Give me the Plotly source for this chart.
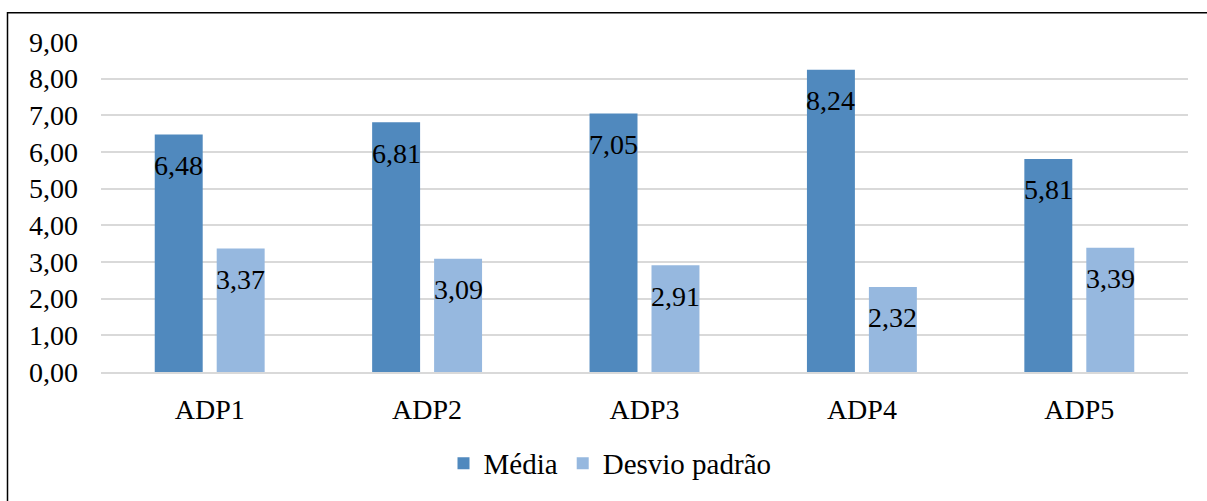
import plotly.graph_objects as go

categories = ["ADP1", "ADP2", "ADP3", "ADP4", "ADP5"]
media = [6.48, 6.81, 7.05, 8.24, 5.81]
desvio = [3.37, 3.09, 2.91, 2.32, 3.39]
y_ticks = [0, 1, 2, 3, 4, 5, 6, 7, 8, 9]
y_tick_labels = ["0,00", "1,00", "2,00", "3,00", "4,00", "5,00", "6,00", "7,00", "8,00", "9,00"]

FONT = "Liberation Serif"
C_MEDIA = "#5089BE"
C_DESVIO = "#96B8DF"

def fmt(v):
    return f"{v:.2f}".replace(".", ",")

fig = go.Figure()
fig.add_trace(go.Bar(name="Média", x=categories, y=media, marker=dict(color=C_MEDIA, line=dict(width=0))))
fig.add_trace(go.Bar(name="Desvio padrão", x=categories, y=desvio, marker=dict(color=C_DESVIO, line=dict(width=0))))

annotations = []
for series, shift in ((media, -31), (desvio, 31)):
    for c, v in zip(categories, series):
        annotations.append(dict(x=c, y=v, xref="x", yref="y", text=fmt(v), showarrow=False,
                                xshift=shift, yshift=-31, yanchor="middle", xanchor="center",
                                font=dict(family=FONT, size=28, color="black")))

W, H = 1207, 501
L, R, T, B = 101, 19, 42, 125.3
pw = W - L - R
ph = H - T - B

def px_x(p):
    return (p - L) / pw

def px_y(p):
    return (H - B - p) / ph

fig.update_layout(
    width=W, height=H,
    margin=dict(l=L, r=R, t=T, b=B, pad=0),
    paper_bgcolor="white", plot_bgcolor="white",
    barmode="group", bargap=0.43, bargroupgap=0.226,
    font=dict(family=FONT, size=28, color="black"),
    showlegend=True,
    legend=dict(orientation="h", x=px_x(610), xanchor="center", y=px_y(468), yanchor="middle",
                font=dict(family=FONT, size=29, color="black"), itemwidth=30, tracegroupgap=0,
                bgcolor="rgba(0,0,0,0)"),
    annotations=annotations,
    shapes=[dict(type="rect", xref="paper", yref="paper",
                 x0=px_x(7.5), x1=px_x(1212), y0=px_y(510), y1=px_y(12.5),
                 line=dict(color="black", width=1.5), fillcolor="rgba(0,0,0,0)", layer="above")],
)
fig.update_yaxes(range=[0, 9], tickvals=y_ticks, ticktext=y_tick_labels, showgrid=True,
                 gridcolor="#D9D9D9", gridwidth=1.5, zeroline=False, showline=False,
                 ticks="", ticklabelstandoff=22, tickfont=dict(family=FONT, size=28, color="black"))
fig.update_xaxes(showgrid=False, showline=True, linecolor="#D9D9D9", linewidth=1.5, ticks="",
                 ticklabelstandoff=12, tickfont=dict(family=FONT, size=28, color="black"))

fig.write_html("out.html")
